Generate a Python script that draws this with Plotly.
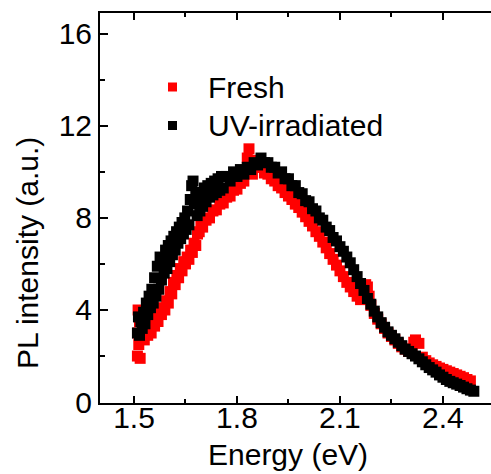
import plotly.graph_objects as go

# ---------------- data ----------------
fresh_E = [1.510, 1.511, 1.512, 1.514, 1.516, 1.518, 1.520, 1.525, 1.530, 1.535,
           1.540, 1.545, 1.550, 1.555, 1.560, 1.565, 1.570, 1.575, 1.580, 1.585,
           1.590, 1.595, 1.600, 1.605, 1.610, 1.615, 1.620, 1.625, 1.630, 1.635,
           1.640, 1.645, 1.650, 1.655, 1.660, 1.665, 1.670, 1.675, 1.680, 1.685,
           1.690, 1.695, 1.700, 1.710, 1.720, 1.730, 1.740, 1.750, 1.760, 1.770,
           1.780, 1.790, 1.800, 1.810, 1.820, 1.830, 1.835, 1.840, 1.845, 1.850,
           1.860, 1.870, 1.880, 1.890, 1.900, 1.910, 1.920, 1.930, 1.940, 1.950,
           1.960, 1.970, 1.980, 1.990, 2.000, 2.010, 2.020, 2.030, 2.040, 2.050,
           2.060, 2.070, 2.080, 2.090, 2.100, 2.110, 2.120, 2.130, 2.140, 2.150,
           2.160, 2.170, 2.175, 2.180, 2.185, 2.190, 2.200, 2.210, 2.220, 2.230,
           2.240, 2.250, 2.260, 2.270, 2.280, 2.290, 2.300, 2.310, 2.315, 2.320,
           2.330, 2.340, 2.350, 2.360, 2.370, 2.380, 2.390, 2.400, 2.410, 2.420,
           2.430, 2.440, 2.450, 2.460, 2.470, 2.480]
fresh_I = [2.0, 3.0, 4.0, 2.5, 3.5, 1.9, 2.8, 3.3, 2.7, 3.5,
           2.9, 3.6, 3.0, 3.5, 3.3, 3.7, 3.5, 3.9, 3.8, 4.1,
           4.0, 4.4, 4.3, 4.8, 4.7, 5.2, 5.1, 5.5, 5.4, 5.8,
           5.7, 6.1, 6.0, 6.3, 6.2, 6.6, 6.5, 6.9, 6.8, 7.3,
           7.4, 7.7, 7.6, 7.9, 8.0, 8.3, 8.35, 8.6, 8.65, 8.9,
           8.95, 9.2, 9.25, 9.5, 9.6, 10.6, 11.0, 10.5, 9.9, 10.2,
           10.2, 10.2, 9.95, 9.9, 9.7, 9.6, 9.4, 9.3, 9.1, 8.95,
           8.8, 8.6, 8.45, 8.25, 8.05, 7.85, 7.65, 7.4, 7.2, 6.95,
           6.7, 6.45, 6.2, 5.95, 5.7, 5.45, 5.2, 5.0, 4.8, 4.6,
           4.45, 4.7, 5.1, 5.0, 4.6, 4.2, 3.85, 3.6, 3.4, 3.2,
           3.0, 2.85, 2.7, 2.55, 2.4, 2.3, 2.2, 2.3, 2.6, 2.7,
           2.55, 1.95, 1.8, 1.7, 1.62, 1.55, 1.48, 1.42, 1.36, 1.3,
           1.24, 1.18, 1.12, 1.06, 0.98, 0.92]

uv_E = [1.510, 1.513, 1.516, 1.520, 1.524, 1.528, 1.532, 1.536, 1.540, 1.544,
        1.548, 1.552, 1.556, 1.560, 1.564, 1.568, 1.572, 1.576, 1.580, 1.584,
        1.588, 1.592, 1.596, 1.600, 1.604, 1.608, 1.612, 1.616, 1.620, 1.624,
        1.628, 1.632, 1.636, 1.640, 1.644, 1.648, 1.652, 1.656, 1.660, 1.664,
        1.668, 1.672, 1.676, 1.680, 1.684, 1.688, 1.692, 1.696, 1.700, 1.705,
        1.710, 1.715, 1.720, 1.725, 1.730, 1.735, 1.740, 1.745, 1.750, 1.755,
        1.760, 1.770, 1.780, 1.790, 1.800, 1.810, 1.820, 1.830, 1.840, 1.850,
        1.860, 1.870, 1.880, 1.890, 1.900, 1.910, 1.920, 1.930, 1.940, 1.950,
        1.960, 1.970, 1.980, 1.990, 2.000, 2.010, 2.020, 2.030, 2.040, 2.050,
        2.060, 2.070, 2.080, 2.090, 2.100, 2.110, 2.120, 2.130, 2.140, 2.150,
        2.160, 2.170, 2.180, 2.190, 2.200, 2.210, 2.220, 2.230, 2.240, 2.250,
        2.260, 2.270, 2.280, 2.290, 2.300, 2.310, 2.320, 2.330, 2.340, 2.350,
        2.360, 2.370, 2.380, 2.390, 2.400, 2.410, 2.420, 2.430, 2.440, 2.450,
        2.460, 2.470, 2.480, 2.490]
uv_I = [3.0, 3.7, 2.9, 3.5, 3.2, 3.9, 3.4, 4.3, 3.8, 4.6,
        4.1, 4.9, 4.3, 5.4, 4.6, 5.9, 4.9, 6.3, 5.3, 6.2,
        5.6, 6.6, 5.8, 6.8, 6.1, 7.0, 6.4, 7.2, 6.6, 7.4,
        6.9, 7.6, 7.1, 7.8, 7.3, 8.0, 7.5, 8.3, 7.7, 8.8,
        9.4, 9.6, 8.6, 9.1, 8.1, 8.9, 8.3, 9.1, 8.5, 9.3,
        8.7, 9.4, 8.9, 9.5, 9.0, 9.6, 9.1, 9.7, 9.2, 9.8,
        9.3, 9.8, 9.6, 10.0, 9.8, 10.1, 9.9, 10.2, 10.1, 10.4,
        10.3, 10.6, 10.4, 10.4, 10.2, 10.2, 9.95, 10.0, 9.7, 9.7,
        9.4, 9.4, 9.1, 9.05, 8.75, 8.7, 8.4, 8.3, 8.0, 7.9,
        7.6, 7.45, 7.15, 7.0, 6.75, 6.55, 6.3, 6.05, 5.75, 5.45,
        5.15, 4.85, 4.5, 4.25, 3.95, 3.7, 3.45, 3.25, 3.05, 2.9,
        2.75, 2.6, 2.45, 2.3, 2.2, 2.1, 2.0, 1.88, 1.75, 1.62,
        1.5, 1.4, 1.3, 1.18, 1.08, 0.98, 0.9, 0.84, 0.78, 0.72,
        0.65, 0.58, 0.52, 0.47]

series_names = ["Fresh", "UV-irradiated"]
series_colors = ["#ff0000", "#000000"]

# ---------------- figure ----------------
W, H = 491, 474
ML, MR, MT, MB = 100, 0, 13, 71
PW, PH = W - ML - MR, H - MT - MB
FONT = "Arial, 'Liberation Sans', sans-serif"


def px_x(p):
    return (p - ML) / PW


def px_y(p):
    return (H - MB - p) / PH


fig = go.Figure()
for E, I, name, col in [(fresh_E, fresh_I, series_names[0], series_colors[0]),
                        (uv_E, uv_I, series_names[1], series_colors[1])]:
    fig.add_trace(go.Scatter(x=E, y=I, mode="markers", name=name, showlegend=False,
                             marker=dict(symbol="square", size=11, color=col,
                                         line=dict(width=0))))

axis_common = dict(showgrid=False, zeroline=False, showline=True, linecolor="black",
                   linewidth=2, ticks="inside", tickwidth=2, tickcolor="black",
                   tickfont=dict(family=FONT, size=30, color="black"))

fig.update_xaxes(range=[1.401, 2.540], tick0=1.5, dtick=0.3, ticklen=7,
                 mirror="ticks", ticklabelstandoff=-13,
                 minor=dict(dtick=0.15, tick0=1.5, ticks="inside", ticklen=4,
                            tickwidth=2, tickcolor="black"),
                 **axis_common)
fig.update_yaxes(range=[-0.04, 16.9], tick0=0, dtick=4, ticklen=8,
                 minor=dict(dtick=2, tick0=0, ticks="inside", ticklen=5,
                            tickwidth=2, tickcolor="black"),
                 **axis_common)

annotations = [
    dict(text="Energy (eV)", x=px_x(287.5), y=px_y(454), xref="paper", yref="paper",
         xanchor="center", yanchor="middle", showarrow=False,
         font=dict(family=FONT, size=30, color="black")),
    dict(text="PL intensity (a.u.)", x=px_x(27), y=px_y(253), xref="paper", yref="paper",
         xanchor="center", yanchor="middle", showarrow=False, textangle=-90,
         font=dict(family=FONT, size=30, color="black")),
]
shapes = []
legend_rows = [87, 125.5]
for name, col, yc in zip(series_names, series_colors, legend_rows):
    shapes.append(dict(type="rect", xref="paper", yref="paper",
                       x0=px_x(168), x1=px_x(177), y0=px_y(yc + 4.5), y1=px_y(yc - 4.5),
                       fillcolor=col, line=dict(width=0)))
    annotations.append(dict(text=name, x=px_x(206), y=px_y(yc), xref="paper", yref="paper",
                            xanchor="left", yanchor="middle", showarrow=False,
                            font=dict(family=FONT, size=30, color="black")))

fig.update_layout(width=W, height=H, margin=dict(l=ML, r=MR, t=MT, b=MB),
                  plot_bgcolor="white", paper_bgcolor="white",
                  showlegend=False, annotations=annotations, shapes=shapes)

fig.write_html("out.html")
